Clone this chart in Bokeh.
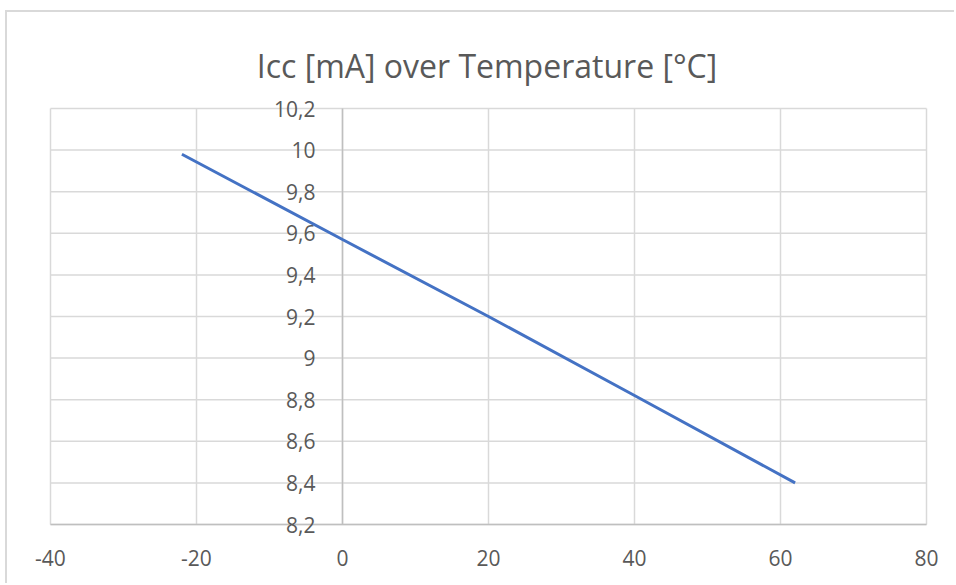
from bokeh.plotting import figure
from bokeh.models import LinearAxis, FixedTicker, CustomJSTickFormatter, Range1d, Grid, Label
from bokeh.embed import file_html
from bokeh.resources import INLINE

# data
temperature = [-22, 0, 20, 40, 62]
icc = [9.98, 9.57, 9.20, 8.82, 8.40]
x_ticks = [-40, -20, 0, 20, 40, 60, 80]
y_ticks = [8.2, 8.4, 8.6, 8.8, 9.0, 9.2, 9.4, 9.6, 9.8, 10.0, 10.2]
title_text = "Icc [mA] over Temperature [°C]"

FONT = "Open Sans"
TXT = "#595959"
GRID = "#d9d9d9"

W, H = 949, 573
x_lo, x_hi = x_ticks[0], x_ticks[-1]
y_lo, y_hi = y_ticks[0], y_ticks[-1]
# pixel geometry of the plotting area inside the canvas
fl, fr, ft, fb = 43, 919, 96, 512
sx = (fr - fl) / (x_hi - x_lo)
sy = (fb - ft) / (y_hi - y_lo)
xr = Range1d(x_lo - fl / sx, x_hi + (W - fr) / sx)
yr = Range1d(y_lo - (H - fb) / sy, y_hi + ft / sy)

p = figure(width=W, height=H, output_backend="svg", toolbar_location=None,
           x_range=xr, y_range=yr, x_axis_location=None, y_axis_location=None,
           min_border=0, min_border_left=0, min_border_right=0,
           min_border_top=0, min_border_bottom=0)
p.styles = {"margin-left": "5px", "margin-top": "10px",
            "border-left": "2px solid #d9d9d9", "border-top": "2px solid #d9d9d9"}
p.outline_line_color = None
p.background_fill_color = "white"
p.border_fill_color = "white"
p.center = [r for r in p.center if not isinstance(r, Grid)]

# grid lines limited to the value box
nx, ny = len(x_ticks), len(y_ticks)
p.segment(x0=x_ticks, y0=[y_lo] * nx, x1=x_ticks, y1=[y_hi] * nx,
          line_color=GRID, line_width=1.5, level="underlay")
p.segment(x0=[x_lo] * ny, y0=y_ticks, x1=[x_hi] * ny, y1=y_ticks,
          line_color=GRID, line_width=1.5, level="underlay")

xa = LinearAxis(fixed_location=y_lo, bounds=(x_lo, x_hi), ticker=FixedTicker(ticks=x_ticks),
                formatter=CustomJSTickFormatter(code="return String(tick);"))
xa.axis_line_color = "#bfbfbf"
xa.axis_line_width = 1.5
xa.major_tick_line_color = None
xa.minor_tick_line_color = None
xa.major_label_text_font = FONT
xa.major_label_text_font_size = "21px"
xa.major_label_text_color = TXT
xa.major_label_standoff = 19
p.add_layout(xa, "below")

ya = LinearAxis(fixed_location=0, bounds=(y_lo, y_hi), ticker=FixedTicker(ticks=y_ticks),
                formatter=CustomJSTickFormatter(code="return String(Math.round(tick*10)/10).replace('.', ',');"))
ya.axis_line_color = "#bfbfbf"
ya.axis_line_width = 1.5
ya.major_tick_line_color = None
ya.minor_tick_line_color = None
ya.major_label_text_font = FONT
ya.major_label_text_font_size = "21px"
ya.major_label_text_color = TXT
ya.major_label_standoff = 21
p.add_layout(ya, "left")

title = Label(x=479.5, y=H - 53, x_units="screen", y_units="screen", text=title_text,
              text_align="center", text_baseline="alphabetic",
              text_font=FONT, text_font_size="32px", text_color=TXT)
p.add_layout(title)

p.line(temperature, icc, line_color="#4472C4", line_width=3, level="overlay")

open("out.html", "w").write(file_html(p, INLINE))
